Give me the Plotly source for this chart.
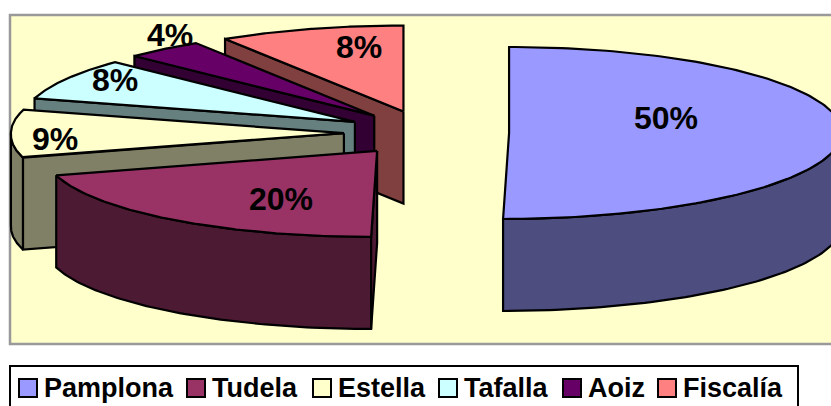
import numpy as np
import plotly.graph_objects as go

# ---- data ----
categories = ["Pamplona", "Tudela", "Estella", "Tafalla", "Aoiz", "Fiscalía"]
shares = [50.0, 20.4, 9.0, 7.8, 3.8, 9.0]          # slice sizes as drawn
percent_labels = ["50%", "20%", "9%", "8%", "4%", "8%"]  # labels as printed

# ---- styles ----
top_colors = ["#9999FF", "#993366", "#FFFFCC", "#CCFFFF", "#660066", "#FF8080"]
wall_colors = ["#4D4D80", "#4D1A33", "#808066", "#668080", "#330033", "#804040"]
W, H = 831, 406
FONT = "Liberation Sans, Arial, sans-serif"

# ---- pie model: unit ellipse in axis space, mapped to the window by the axis ranges ----
CX, CY, RX, RY = 426.5, 133.0, 333.0, 86.0   # pixel centre and radii (define the axis ranges)
EXPLODE_X, EXPLODE_Y = 0.248, 0.26
DEPTH = 92.0 / RY
SKEW = 6.0 / RX


def rim(apex, theta_deg):
    th = np.radians(theta_deg)
    dx, dy = np.sin(th), np.cos(th)
    dx = dx + SKEW * np.minimum(dy, 0)
    return apex[0] + dx, apex[1] + dy


traces = []
edges = np.cumsum([0] + shares) / sum(shares) * 360
slices = []
for i, name in enumerate(categories):
    a0, a1 = edges[i], edges[i + 1]
    mid = np.radians((a0 + a1) / 2)
    apex = (EXPLODE_X * np.sin(mid), EXPLODE_Y * np.cos(mid))
    slices.append((i, name, a0, a1, apex))

line = dict(color="black", width=2.2)


def poly(xs, ys, color, name):
    return go.Scatter(x=list(xs), y=list(ys), mode="lines", fill="toself", fillcolor=color,
                      line=line, name=name, hoverinfo="name", showlegend=False)


# painter's order: back slices first, front slices later
for i, name, a0, a1, apex in reversed(slices):
    # outer rim wall (front half only)
    w0, w1 = max(a0, 90), min(a1, 270)
    if w1 > w0:
        t = np.linspace(w0, w1, 80)
        x, y = rim(apex, t)
        traces.append(poly(np.r_[x, x[::-1], x[0]], np.r_[y, y[::-1] - DEPTH, y[0]], wall_colors[i], name))
    # cut wall on the starting edge
    if 180 <= a0 < 360:
        sx, sy = rim(apex, a0)
        traces.append(poly([apex[0], sx, sx, apex[0], apex[0]],
                           [apex[1], sy, sy - DEPTH, apex[1] - DEPTH, apex[1]], wall_colors[i], name))
    # top face
    t = np.linspace(a0, a1, 160)
    x, y = rim(apex, t)
    traces.append(poly(np.r_[apex[0], x, apex[0]], np.r_[apex[1], y, apex[1]], top_colors[i], name))

fig = go.Figure(traces)

# ---- labels (pixel positions in the window) ----
label_px = [(666, 118), (281, 199), (55, 139), (115, 80), (170, 35), (359, 47)]
annotations = []
for text, (px, py) in zip(percent_labels, label_px):
    annotations.append(dict(x=px / W, y=1 - py / H, xref="paper", yref="paper", text=text, showarrow=False,
                            font=dict(family=FONT, size=32, color="black", weight=700),
                            xanchor="center", yanchor="middle"))

shapes = [
    dict(type="rect", xref="paper", yref="paper", layer="below", x0=10 / W, x1=840 / W,
         y0=1 - 344 / H, y1=1 - 15 / H, fillcolor="#FFFFCC", line=dict(color="#999999", width=2.5)),
    dict(type="rect", xref="paper", yref="paper", layer="below", x0=10 / W, x1=798 / W,
         y0=1 - 416 / H, y1=1 - 366 / H, fillcolor="white", line=dict(color="black", width=2)),
]

# ---- legend row ----
swatch_x = [19, 187, 313, 439, 563, 658]
for i, name in enumerate(categories):
    sx = swatch_x[i]
    shapes.append(dict(type="rect", xref="paper", yref="paper", x0=sx / W, x1=(sx + 18) / W,
                       y0=1 - 397 / H, y1=1 - 379 / H, fillcolor=top_colors[i], line=dict(color="black", width=2)))
    annotations.append(dict(x=(sx + 25) / W, y=1 - 388 / H, xref="paper", yref="paper", text=name, showarrow=False,
                            font=dict(family=FONT, size=27, color="black", weight=700),
                            xanchor="left", yanchor="middle", xshift=-2))

fig.update_layout(
    width=W, height=H, autosize=False,
    margin=dict(l=0, r=0, t=0, b=0),
    paper_bgcolor="white", plot_bgcolor="rgba(0,0,0,0)",
    showlegend=False,
    xaxis=dict(range=[(0 - CX) / RX, (W - CX) / RX], visible=False, fixedrange=True),
    yaxis=dict(range=[(CY - H) / RY, CY / RY], visible=False, fixedrange=True),
    shapes=shapes, annotations=annotations,
)
fig.write_html("out.html", config=dict(displayModeBar=False),
               post_script="document.body.style.margin='0';document.body.style.overflow='hidden';")
